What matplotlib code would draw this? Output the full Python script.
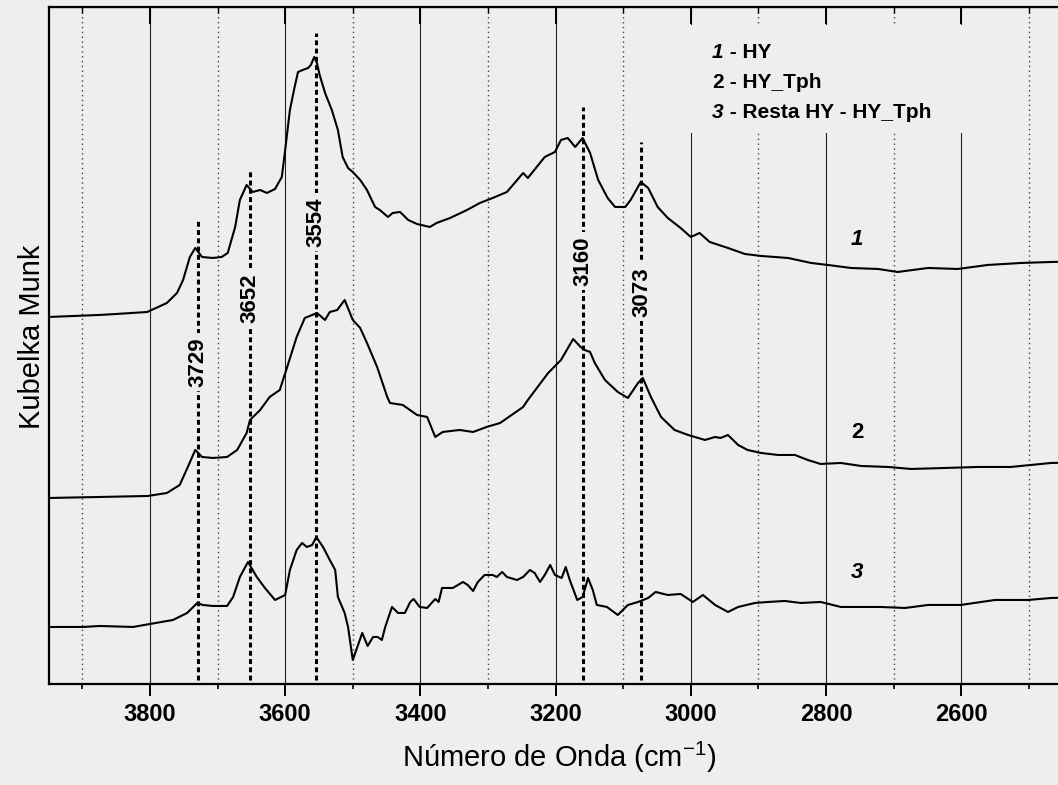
import numpy as np
import matplotlib.pyplot as plt
from matplotlib.patches import Rectangle

plt.rcParams['font.family'] = ['Liberation Sans', 'DejaVu Sans']
plt.rcParams['mathtext.fontset'] = 'custom'
plt.rcParams['mathtext.rm'] = 'Liberation Sans'
plt.rcParams['mathtext.it'] = 'Liberation Sans:italic'
plt.rcParams['mathtext.bf'] = 'Liberation Sans:bold'

BG = '#eeeeee'

# 1 - HY
wn_hy = [3950, 3875, 3850, 3804, 3775, 3760, 3751, 3741, 3733, 3723, 3707, 3694, 3685,
         3674, 3667, 3657, 3648, 3637, 3627, 3615, 3605, 3600, 3593, 3586, 3581, 3574,
         3566, 3562, 3557, 3553, 3549, 3541, 3531, 3522, 3515, 3507, 3500, 3489, 3479,
         3467, 3460, 3448, 3441, 3430, 3418, 3405, 3386, 3376, 3356, 3331, 3312, 3293,
         3272, 3248, 3241, 3216, 3201, 3192, 3182, 3171, 3160, 3149, 3137, 3123, 3112,
         3097, 3089, 3074, 3063, 3049, 3034, 3015, 3000, 2987, 2972, 2945, 2920, 2896,
         2856, 2822, 2797, 2763, 2723, 2694, 2649, 2605, 2561, 2512, 2467, 2400]
km_hy = [367, 369, 370, 372, 381, 391, 404, 427, 436, 427, 426, 427, 431,
         457, 484, 499, 492, 494, 491, 495, 507, 534, 574, 597, 612, 614,
         616, 619, 627, 621, 609, 591, 574, 554, 527, 516, 512, 504, 494,
         477, 474, 467, 471, 472, 464, 460, 457, 461, 466, 474, 481, 486,
         492, 511, 506, 527, 532, 544, 546, 537, 546, 531, 504, 486, 477,
         477, 484, 502, 496, 477, 466, 456, 447, 451, 442, 436, 430, 428,
         426, 421, 419, 416, 415, 412, 416, 415, 419, 421, 422, 423]

# 2 - HY_Tph
wn_tph = [3950, 3874, 3803, 3775, 3756, 3744, 3733, 3723, 3707, 3686, 3671, 3657, 3652,
          3637, 3623, 3608, 3597, 3583, 3571, 3560, 3553, 3541, 3534, 3523, 3512, 3500,
          3489, 3479, 3464, 3449, 3445, 3426, 3405, 3390, 3378, 3367, 3342, 3322, 3302,
          3282, 3248, 3241, 3211, 3192, 3174, 3163, 3157, 3149, 3142, 3127, 3108, 3093,
          3078, 3071, 3059, 3044, 3024, 3004, 2994, 2979, 2964, 2956, 2945, 2930, 2916,
          2896, 2871, 2846, 2827, 2808, 2778, 2748, 2708, 2674, 2624, 2575, 2527, 2467, 2400]
km_tph = [186, 187, 188, 191, 199, 217, 234, 227, 226, 227, 234, 251, 264,
          274, 287, 294, 317, 347, 366, 369, 371, 364, 372, 374, 384, 364,
          356, 341, 317, 287, 281, 279, 269, 267, 247, 252, 254, 252, 257,
          261, 277, 284, 311, 324, 345, 337, 334, 332, 321, 304, 292, 286,
          301, 306, 287, 267, 254, 249, 247, 244, 247, 246, 249, 239, 234,
          231, 229, 229, 224, 220, 221, 218, 217, 215, 216, 217, 217, 221, 222]

# 3 - Resta HY - HY_Tph
wn_res = [3950, 3899, 3874, 3825, 3800, 3766, 3745, 3730, 3722, 3707, 3686, 3677, 3667,
          3655, 3642, 3630, 3615, 3600, 3593, 3583, 3575, 3568, 3560, 3554, 3544, 3534,
          3526, 3522, 3512, 3507, 3500, 3486, 3478, 3470, 3463, 3457, 3452, 3442, 3433,
          3423, 3415, 3410, 3401, 3390, 3378, 3373, 3368, 3352, 3337, 3330, 3322, 3315,
          3305, 3293, 3287, 3279, 3272, 3257, 3248, 3238, 3231, 3223, 3216, 3208, 3201,
          3191, 3185, 3179, 3168, 3160, 3152, 3145, 3139, 3124, 3108, 3093, 3078, 3063,
          3052, 3034, 3015, 2997, 2982, 2964, 2945, 2930, 2905, 2886, 2861, 2837, 2808,
          2778, 2748, 2719, 2683, 2649, 2601, 2550, 2501, 2467, 2400]
km_res = [57, 57, 58, 57, 60, 64, 71, 81, 79, 78, 78, 87, 107,
          122, 107, 96, 84, 89, 114, 134, 141, 137, 139, 147, 137, 124,
          114, 87, 71, 57, 24, 51, 38, 47, 47, 44, 57, 77, 71,
          71, 82, 85, 77, 76, 85, 82, 96, 96, 102, 99, 93, 102,
          109, 109, 107, 112, 107, 104, 107, 114, 111, 102, 109, 119, 109,
          106, 117, 104, 84, 87, 106, 94, 79, 77, 69, 79, 82, 86,
          92, 89, 90, 82, 89, 79, 72, 77, 81, 82, 83, 81, 82,
          77, 77, 77, 76, 79, 79, 84, 84, 86, 87]

peaks = [3729, 3652, 3554, 3160, 3073]
major_ticks = [3800, 3600, 3400, 3200, 3000, 2800, 2600, 2400]
tick_labels = ['3800', '3600', '3400', '3200', '3000', '2800', '2600', '']
minor_ticks = [3900, 3700, 3500, 3300, 3100, 2900, 2700, 2500]
legend_items = [('1', ' - HY'), ('2', ' - HY_Tph'), ('3', ' - Resta HY - HY_Tph')]

fig = plt.figure(figsize=(10.58, 7.85), dpi=100, facecolor=BG)
ax = fig.add_axes([0.0459, 0.1287, 0.9904, 0.8624], facecolor=BG)
ax.set_xlim(3950, 2400)
ax.set_ylim(0, 677)

ax.set_xticks(major_ticks, labels=tick_labels, fontsize=17, fontweight='bold')
ax.set_xticks(minor_ticks, minor=True)
ax.set_yticks([])
ax.tick_params(axis='x', which='major', direction='out', length=8.5, width=1.4, pad=5)
ax.tick_params(axis='x', which='minor', direction='out', length=3.6, width=1.2)
ax.grid(which='major', axis='x', color='#222222', lw=0.8)
ax.grid(which='minor', axis='x', color='#444444', lw=1.0, linestyle=(0, (1, 2.5)))
for s in ['left', 'top', 'bottom']:
    ax.spines[s].set_linewidth(1.6)
ax.spines['right'].set_visible(False)

top = ax.secondary_xaxis('top')
top.set_xticks(major_ticks, labels=[])
top.set_xticks(minor_ticks, minor=True)
top.tick_params(which='major', direction='in', length=12, width=1.4)
top.tick_params(which='minor', direction='in', length=4, width=1.0)
top.set_zorder(5)

# blank area behind the key hides the grid
ax.add_patch(Rectangle((0.588, 0.814), 0.32, 0.159, transform=ax.transAxes,
                       facecolor=BG, edgecolor='none', zorder=1.8))

for wn, km in [(wn_hy, km_hy), (wn_tph, km_tph), (wn_res, km_res)]:
    ax.plot(wn, km, color='black', lw=1.5, zorder=2)

peak_top = [466, 514, 651, 577, 542]
peak_lbl = [322, 386, 462, 423, 392]
for p, yt, yl in zip(peaks, peak_top, peak_lbl):
    ax.plot([p, p], [4, yt], color='black', lw=2.2, linestyle=(0, (1.6, 1.1)), zorder=2)
    ax.text(p, yl, str(p), rotation=90, ha='center', va='center', fontsize=16,
            fontweight='bold', zorder=3,
            bbox=dict(facecolor=BG, edgecolor='none', pad=3))

for i, (num, txt) in enumerate(legend_items):
    yb = [0.9247, 0.8804, 0.836][i]
    ax.text(0.633, yb, num, transform=ax.transAxes, fontsize=15, fontweight='bold',
            style='normal' if num == '2' else 'italic', va='baseline', zorder=3)
    ax.text(0.645, yb, txt, transform=ax.transAxes, fontsize=15, fontweight='bold',
            va='baseline', zorder=3)

for num, y in [('1', 444), ('2', 251), ('3', 111)]:
    ax.text(2754, y, num, ha='center', va='center', fontsize=16, fontweight='bold',
            style='normal' if num == '2' else 'italic', zorder=3)

ax.set_xlabel(r'Número de Onda (cm$^{\mathregular{-1}}$)', fontsize=21)
ax.xaxis.set_label_coords(0.487, -0.0827)
ax.set_ylabel('Kubelka Munk', fontsize=21)
ax.yaxis.set_label_coords(-0.002, 0.513)

fig.savefig('out.png', dpi=100, facecolor=BG)
